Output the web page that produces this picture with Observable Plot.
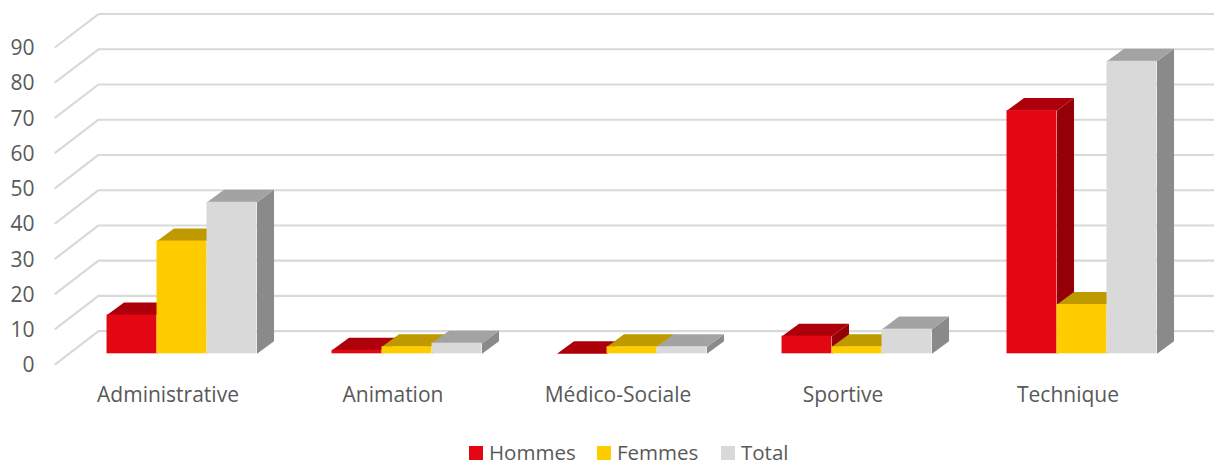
<!DOCTYPE html>
<html lang="fr">
<head>
<meta charset="utf-8">
<script src="https://cdn.jsdelivr.net/npm/d3@7"></script>
<script src="https://cdn.jsdelivr.net/npm/@observablehq/plot@0.6"></script>
<style>
  html, body { margin: 0; padding: 0; background: #fff; }
  #chart { width: 1214px; height: 462px; position: relative; overflow: hidden; font-family: "Open Sans", sans-serif; }
  #chart svg { display: block; }
  .legend { position: absolute; left: 0; top: 438px; width: 1214px; height: 24px; color: #595959; font-size: 20.5px; line-height: 20px; }
  .legend span { position: absolute; top: 4px; white-space: nowrap; }
  .legend i { position: absolute; top: 8px; width: 14px; height: 14px; }
</style>
</head>
<body>
<div id="chart"></div>
<script>
const categories = ["Administrative", "Animation", "Médico-Sociale", "Sportive", "Technique"];
const hommes = [11, 1, 0, 5, 69];
const femmes = [32, 2, 2, 2, 14];
const total  = [43, 3, 2, 7, 83];
const yTicks = [0, 10, 20, 30, 40, 50, 60, 70, 80, 90];

const series = [
  {name: "Hommes", values: hommes, front: "#E30613", top: "#AE000B", side: "#950008"},
  {name: "Femmes", values: femmes, front: "#FFCC00", top: "#BF9900", side: "#A08000"},
  {name: "Total",  values: total,  front: "#D9D9D9", top: "#A3A3A3", side: "#8A8A8A"}
];

// Oblique projection constants, in data units of the x and y scales
const wallDX = 0.191, wallDY = 9.36, wallEnd = 5.152;
const barStart = 0.229, barW = 0.2222, barBase = 2.95, barDX = 0.0756, barDY = 3.55;

const fronts = [], faces = [];
categories.forEach((c, ci) => {
  series.forEach((s, si) => {
    const x0 = ci + barStart + si * barW, x1 = x0 + barW;
    const v = s.values[ci], yTop = barBase + v;
    fronts.push({x1: x0, x2: x1, y1: barBase, y2: yTop, color: s.front, category: c, series: s.name});
    const side = `${ci}-${si}-side`, top = `${ci}-${si}-top`;
    if (v > 0) {
      [[x1, barBase], [x1 + barDX, barBase + barDY], [x1 + barDX, yTop + barDY], [x1, yTop]]
        .forEach(([x, y]) => faces.push({x, y, id: side, color: s.side}));
    }
    [[x0, yTop], [x1, yTop], [x1 + barDX, yTop + barDY], [x0 + barDX, yTop + barDY]]
      .forEach(([x, y]) => faces.push({x, y, id: top, color: s.top}));
  });
});

const grid = yTicks.flatMap(t => [
  {x: 0, y: t, tick: t},
  {x: wallDX, y: t + wallDY, tick: t},
  {x: wallEnd, y: t + wallDY, tick: t}
]);

const plot = Plot.plot({
  width: 1214, height: 438,
  marginLeft: 55, marginRight: 34, marginTop: 46.5, marginBottom: 74.3,
  style: {fontFamily: "'Open Sans', sans-serif", background: "#fff", overflow: "visible"},
  x: {type: "linear", domain: [0, 5]},
  y: {type: "linear", domain: [0, 90]},
  color: {type: "identity"},
  marks: [
    Plot.line(grid, {x: "x", y: "y", z: "tick", stroke: "#D9D9D9", strokeWidth: 2.2}),
    Plot.line(faces, {x: "x", y: "y", z: "id", fill: "color", stroke: "none"}),
    Plot.rect(fronts, {x1: "x1", x2: "x2", y1: "y1", y2: "y2", fill: "color"}),
    Plot.axisY({ticks: yTicks, tickSize: 0, tickPadding: 21, dy: 1.5, label: null, fontSize: 21, color: "#595959"}),
    Plot.axisX({
      ticks: categories.map((d, i) => i + 0.5),
      tickFormat: v => categories[Math.round(v - 0.5)],
      tickSize: 0, tickPadding: 23, label: null, fontSize: 21, color: "#595959"
    })
  ]
});

const root = document.getElementById("chart");
root.appendChild(plot);

const legend = document.createElement("div");
legend.className = "legend";
const legendPos = [[469, 489], [597, 617], [721, 741]];
series.forEach((s, i) => {
  const sw = document.createElement("i");
  sw.style.left = legendPos[i][0] + "px";
  sw.style.background = s.front;
  const tx = document.createElement("span");
  tx.style.left = legendPos[i][1] + "px";
  tx.textContent = s.name;
  legend.append(sw, tx);
});
root.appendChild(legend);
</script>
</body>
</html>
